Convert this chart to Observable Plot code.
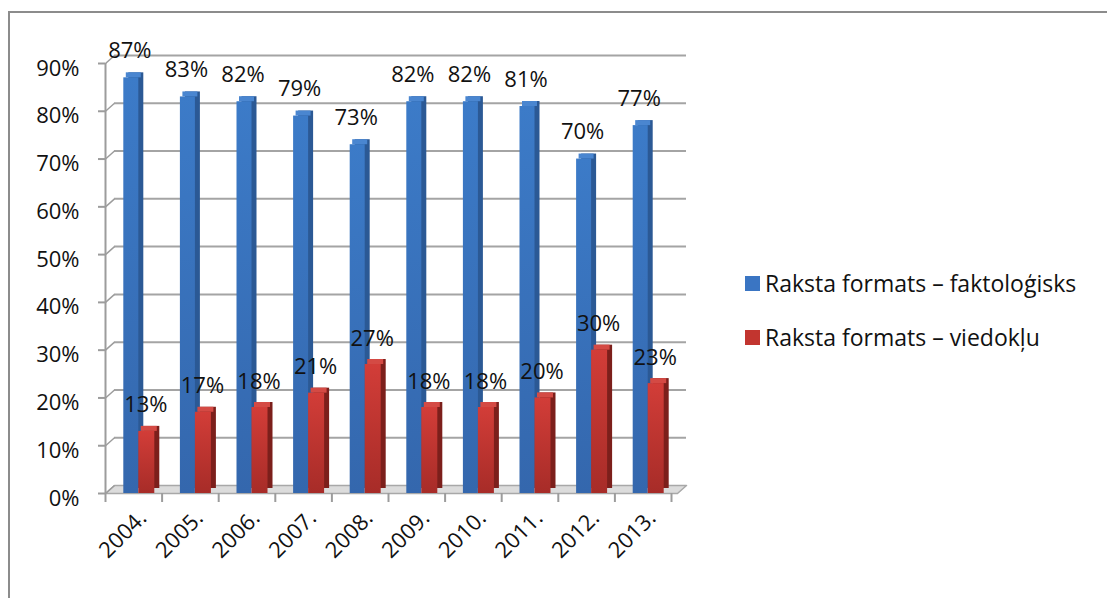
<!DOCTYPE html>
<html><head><meta charset="utf-8">
<script src="https://cdn.jsdelivr.net/npm/d3@7"></script>
<script src="https://cdn.jsdelivr.net/npm/@observablehq/plot@0.6"></script>
<style>
body{margin:0;background:#fff;font-family:"Open Sans",sans-serif;}
#wrap{position:relative;width:1107px;height:598px;overflow:hidden;background:#fff;}
#frame{position:absolute;left:8px;top:11px;width:1120px;height:620px;border-left:2px solid #8c8c8c;border-top:2px solid #8c8c8c;}
#chart{position:absolute;left:0;top:0;}
#legend{position:absolute;left:745px;top:269px;font-size:23px;color:#111;font-family:"Open Sans",sans-serif;}
.item{display:flex;align-items:center;height:28px;margin-bottom:26px;white-space:nowrap;}
.sw{width:15px;height:15px;margin-right:5px;flex:none;}
</style></head>
<body>
<div id="wrap"><div id="frame"></div><div id="chart"></div><div id="legend"></div></div>
<script>
const years = ["2004.","2005.","2006.","2007.","2008.","2009.","2010.","2011.","2012.","2013."];
const factual = [0.87,0.83,0.82,0.79,0.73,0.82,0.82,0.81,0.70,0.77];
const opinion = [0.13,0.17,0.18,0.21,0.27,0.18,0.18,0.20,0.30,0.23];
const yTicks = [0,0.1,0.2,0.3,0.4,0.5,0.6,0.7,0.8,0.9];
const xBounds = [0,1,2,3,4,5,6,7,8,9,10];
const seriesNames = ["Raksta formats – faktoloģisks","Raksta formats – viedokļu"];
const seriesColors = ["#3a75c3","#c2352f"];

const W = 720, H = 598, mL = 105, mR = W - 671, mT = 63, mB = H - 493;
const n = years.length;
const kx = n / (W - mR - mL);     // data units per pixel (x)
const ky = 0.9 / (H - mB - mT);   // data units per pixel (y)
const DX = 9, DY = 8, EXTRA = 6, BD = 5;
const FS = 22;
const half = (W - mR - mL) / n / 2;
const rows = years.map((y, i) => ({i, year: y, f: factual[i], o: opinion[i]}));
const fmt = d => Math.round(d * 100) + "%";
const gray = "#9c9c9c";

const blueIn = {insetLeft: half - 10, insetRight: half - 5};
const redIn = {insetLeft: half + 5, insetRight: half - 21};
const X = {x1: d => d.i, x2: d => d.i + 1};

const floorPts = [
  {x: 0, y: 0}, {x: n + EXTRA * kx, y: 0}, {x: n + (EXTRA + DX) * kx, y: DY * ky},
  {x: DX * kx, y: DY * ky}, {x: 0, y: 0}
];

const svg = Plot.plot({
  width: W, height: H,
  marginLeft: mL, marginRight: mR, marginTop: mT, marginBottom: mB,
  x: {domain: [0, n], axis: null},
  y: {domain: [0, 0.9], axis: null},
  style: {fontFamily: "'Open Sans', sans-serif", fontSize: FS + "px", background: "transparent", overflow: "visible", color: "#111"},
  marks: [
    Plot.line(floorPts, {x: "x", y: "y", fill: "#dcdcdc", stroke: "#a8a8a8", strokeWidth: 1.5}),
    Plot.ruleY(yTicks.slice(1), {x1: DX * kx, x2: n + (EXTRA + DX) * kx, dy: -DY, stroke: "#a4a4a4", strokeWidth: 2}),
    Plot.link(yTicks, {x1: 0, x2: DX * kx, y1: d => d, y2: d => d + DY * ky, stroke: gray, strokeWidth: 1.5}),
    Plot.ruleX([0], {y1: 0, y2: 0.9, stroke: gray, strokeWidth: 2}),
    Plot.ruleY(yTicks, {x1: -7 * kx, x2: 0, stroke: gray, strokeWidth: 2}),
    Plot.ruleX(xBounds, {y1: 0, y2: -9 * ky, stroke: gray, strokeWidth: 2}),
    // blue bars
    Plot.rect(rows, {...X, y1: 0, y2: "f", ...blueIn, dx: BD, dy: -BD, fill: "#2b5995"}),
    Plot.rect(rows, {...X, y1: "f", y2: d => d.f + BD * ky, ...blueIn, dx: BD / 2, fill: "#4a86d0"}),
    Plot.rect(rows, {...X, y1: 0, y2: "f", ...blueIn, fill: "url(#blueGrad)"}),
    // red bars
    Plot.rect(rows, {...X, y1: 0, y2: "o", ...redIn, dx: BD, dy: -BD, fill: "#7c1f1b"}),
    Plot.rect(rows, {...X, y1: "o", y2: d => d.o + BD * ky, ...redIn, dx: BD / 2, fill: "#d44a44"}),
    Plot.rect(rows, {...X, y1: 0, y2: "o", ...redIn, fill: "url(#redGrad)"}),
    // value labels
    Plot.text(rows, {x: d => d.i + 0.5, y: "f", text: d => fmt(d.f), dx: -4, dy: -27, fontSize: FS, fill: "#111"}),
    Plot.text(rows, {x: d => d.i + 0.5, y: "o", text: d => fmt(d.o), dx: 12, dy: -26, fontSize: FS, fill: "#111"}),
    // y labels
    Plot.text(yTicks, {x: 0, y: d => d, text: fmt, textAnchor: "end", dx: -26, dy: 5, fontSize: FS, fill: "#111"}),
    // x labels
    Plot.text(rows, {x: d => d.i + 0.5, y: () => 0, text: "year", rotate: -45, textAnchor: "end", dx: 9, dy: 21, fontSize: FS, fill: "#111"})
  ]
});
svg.insertAdjacentHTML("afterbegin",
  '<defs><linearGradient id="redGrad" x1="0" y1="0" x2="0" y2="1"><stop offset="0" stop-color="#d23d38"/><stop offset="1" stop-color="#a72c28"/></linearGradient>' +
  '<linearGradient id="blueGrad" x1="0" y1="0" x2="0" y2="1"><stop offset="0" stop-color="#3c7bc8"/><stop offset="1" stop-color="#3467ad"/></linearGradient></defs>');
document.getElementById("chart").appendChild(svg);

const legend = document.getElementById("legend");
seriesNames.forEach((name, k) => {
  const it = document.createElement("div");
  it.className = "item";
  const sw = document.createElement("div");
  sw.className = "sw";
  sw.style.background = seriesColors[k];
  const t = document.createElement("span");
  t.textContent = name;
  it.appendChild(sw); it.appendChild(t);
  legend.appendChild(it);
});
</script>
</body></html>
